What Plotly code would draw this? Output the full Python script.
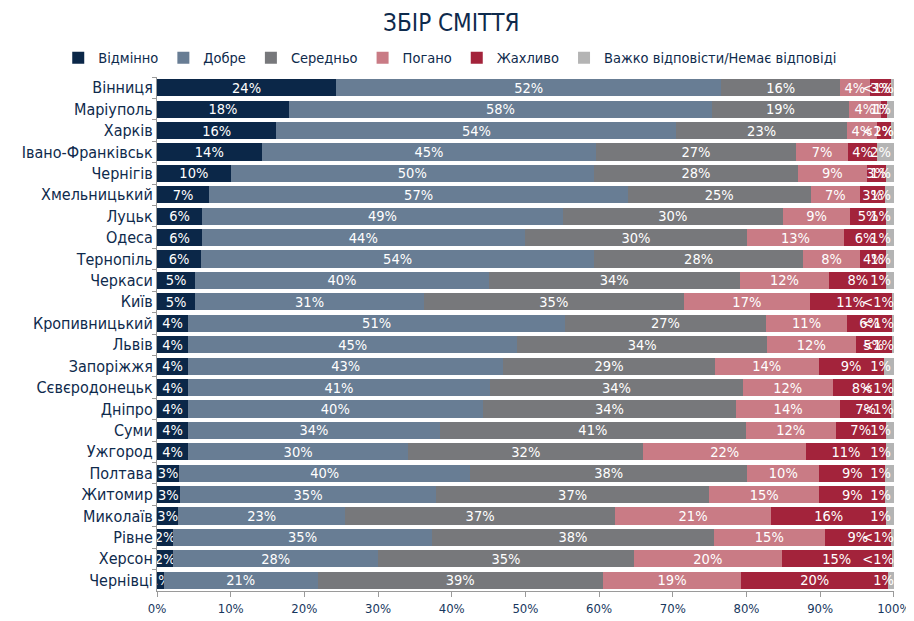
import plotly.graph_objects as go

cities = ["Вінниця", "Маріуполь", "Харків", "Івано-Франківськ", "Чернігів", "Хмельницький",
          "Луцьк", "Одеса", "Тернопіль", "Черкаси", "Київ", "Кропивницький", "Львів",
          "Запоріжжя", "Сєвєродонецьк", "Дніпро", "Суми", "Ужгород", "Полтава", "Житомир",
          "Миколаїв", "Рівне", "Херсон", "Чернівці"]

excellent = [24.3, 17.9, 16.2, 14.2, 10.0, 7.1, 6.1, 6.1, 6.0, 5.2, 5.2, 4.2, 4.2, 4.2, 4.2, 4.2, 4.2, 4.2, 3.0, 3.1, 2.9, 2.2, 2.2, 0.9]
good      = [52.3, 57.4, 54.3, 45.4, 49.3, 56.8, 49.0, 43.8, 53.3, 39.8, 31.0, 51.2, 44.7, 42.8, 41.0, 40.0, 34.2, 29.9, 39.5, 34.8, 22.6, 35.1, 27.8, 20.9]
average   = [16.1, 18.6, 23.1, 27.1, 27.7, 24.8, 29.8, 30.2, 28.4, 34.1, 35.3, 27.2, 33.9, 28.7, 34.3, 34.4, 41.5, 31.9, 37.6, 37.0, 36.7, 38.3, 34.7, 38.7]
bad       = [4.0, 4.3, 4.1, 7.1, 9.3, 6.7, 9.2, 13.1, 7.7, 12.1, 17.1, 11.1, 12.0, 14.1, 12.2, 14.1, 12.2, 22.1, 9.8, 15.0, 21.1, 15.0, 20.1, 18.8]
terrible  = [2.9, 0.9, 1.9, 3.9, 2.7, 3.4, 4.8, 5.8, 3.6, 7.8, 11.1, 6.0, 4.9, 8.8, 8.0, 6.9, 6.8, 10.8, 8.9, 8.9, 15.7, 9.0, 14.9, 19.9]
no_answer = [0.4, 0.9, 0.4, 2.3, 1.0, 1.2, 1.1, 1.0, 1.0, 1.0, 0.3, 0.3, 0.3, 1.4, 0.3, 0.4, 1.1, 1.1, 1.2, 1.2, 1.0, 0.4, 0.3, 0.8]

excellent_lbl = ["24%", "18%", "16%", "14%", "10%", "7%", "6%", "6%", "6%", "5%", "5%", "4%", "4%", "4%", "4%", "4%", "4%", "4%", "3%", "3%", "3%", "2%", "2%", "1%"]
good_lbl      = ["52%", "58%", "54%", "45%", "50%", "57%", "49%", "44%", "54%", "40%", "31%", "51%", "45%", "43%", "41%", "40%", "34%", "30%", "40%", "35%", "23%", "35%", "28%", "21%"]
average_lbl   = ["16%", "19%", "23%", "27%", "28%", "25%", "30%", "30%", "28%", "34%", "35%", "27%", "34%", "29%", "34%", "34%", "41%", "32%", "38%", "37%", "37%", "38%", "35%", "39%"]
bad_lbl       = ["4%", "4%", "4%", "7%", "9%", "7%", "9%", "13%", "8%", "12%", "17%", "11%", "12%", "14%", "12%", "14%", "12%", "22%", "10%", "15%", "21%", "15%", "20%", "19%"]
terrible_lbl  = ["3%", "1%", "2%", "4%", "3%", "3%", "5%", "6%", "4%", "8%", "11%", "6%", "5%", "9%", "8%", "7%", "7%", "11%", "9%", "9%", "16%", "9%", "15%", "20%"]
no_answer_lbl = ["<1%", "1%", "<1%", "2%", "1%", "1%", "1%", "1%", "1%", "1%", "<1%", "<1%", "<1%", "1%", "<1%", "<1%", "1%", "1%", "1%", "1%", "1%", "<1%", "<1%", "1%"]

tick_vals = [0, 10, 20, 30, 40, 50, 60, 70, 80, 90, 100]
tick_labels = ["0%", "10%", "20%", "30%", "40%", "50%", "60%", "70%", "80%", "90%", "100%"]

series = [
    ("Відмінно", excellent, excellent_lbl, "#0b2748", "middle"),
    ("Добре", good, good_lbl, "#687d94", "middle"),
    ("Середньо", average, average_lbl, "#77787b", "middle"),
    ("Погано", bad, bad_lbl, "#c97b85", "middle"),
    ("Жахливо", terrible, terrible_lbl, "#a3233b", "middle"),
    ("Важко відповісти/Немає відповіді", no_answer, no_answer_lbl, "#b4b4b4", "end"),
]

FONT = "DejaVu Sans Condensed, Liberation Sans Narrow, Arial Narrow, sans-serif"

fig = go.Figure()
for i, (name, vals, lbls, col, anchor) in enumerate(series):
    fig.add_trace(go.Bar(
        y=cities, x=vals, name=name, orientation="h",
        marker=dict(color=col, line=dict(width=0)),
        text=lbls, textposition="inside", insidetextanchor=anchor,
        textangle=0, textfont=dict(color="white", size=14.5, family=FONT),
        cliponaxis=(i != 5),
        hoverinfo="x+y+name",
    ))

fig.update_layout(
    barmode="stack",
    bargap=0.2,
    width=914, height=621,
    margin=dict(l=149, r=28, t=69, b=38, autoexpand=False),
    paper_bgcolor="white", plot_bgcolor="white",
    font=dict(family=FONT, color="#0e2a4c", size=14),
    title=dict(text="ЗБІР СМІТТЯ", x=0.485, xanchor="center", y=0.977, yanchor="middle",
               font=dict(size=24, color="#0e2a4c", family=FONT)),
    legend=dict(orientation="h", x=-0.134, xanchor="left", y=1.006, yanchor="bottom",
                font=dict(size=14.5, color="#0e2a4c", family=FONT),
                itemwidth=30, tracegroupgap=0, traceorder="normal"),
    uniformtext=dict(minsize=14.5, mode="show"),
)
fig.update_xaxes(range=[0, 100.02], tickmode="array", tickvals=tick_vals, ticktext=tick_labels,
                 showgrid=False, zeroline=False,
                 showline=True, linecolor="#9a9a9a", linewidth=1, ticks="outside", ticklen=5,
                 tickcolor="#9a9a9a", tickfont=dict(size=13, color="#17375e", family=FONT))
fig.update_yaxes(autorange="reversed", showgrid=False, showline=True, linecolor="#9a9a9a",
                 ticks="outside", ticklen=4, tickcolor="#9a9a9a", tickson="boundaries",
                 tickfont=dict(size=16, color="#0e2a4c", family=FONT))

fig.write_html("out.html")
